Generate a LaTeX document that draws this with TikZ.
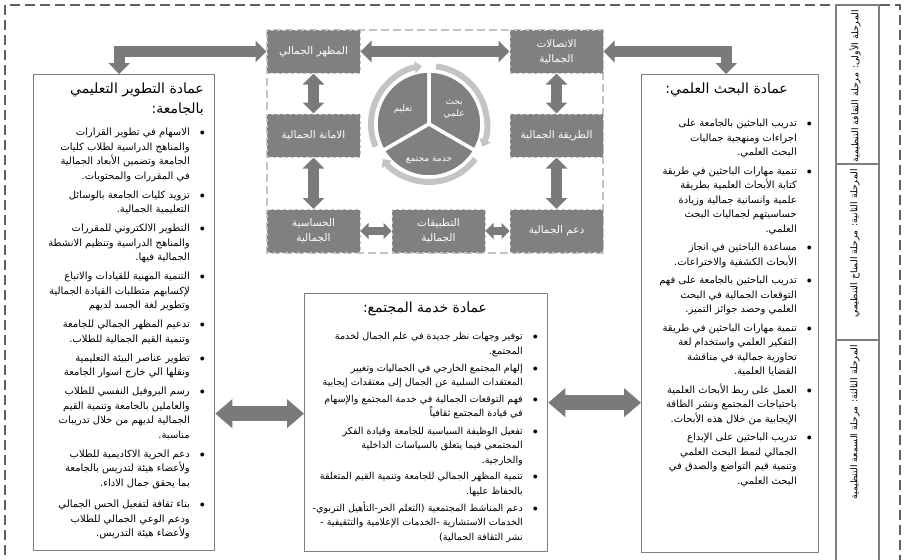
\documentclass[tikz,border=0pt]{standalone}
\usepackage{fontspec}
\usetikzlibrary{arrows.meta,positioning}
\newfontfamily\arabicfont[Script=Arabic]{DejaVu Sans}
\TeXXeTstate=1
\definecolor{BoxGray}{HTML}{808080}
\definecolor{EdgeGray}{HTML}{7F7F7F}
\definecolor{RingGray}{HTML}{C4C4C4}
\definecolor{FrameGray}{HTML}{606060}
\definecolor{ArrowGray}{HTML}{7A7A7A}
\newcommand\ar[1]{\beginR #1\endR}
\newcommand\bl[1]{\ar{#1}\hspace{10pt}$\bullet$}
\newcommand\cl[1]{\ar{#1}\hspace{10pt}\phantom{$\bullet$}}
\tikzset{
        dean/.style={draw=EdgeGray, line width=1.3pt, anchor=north west, inner sep=0pt},
        ttl/.style={anchor=north east, inner sep=0pt, align=right, font=\arabicfont\fontsize{14}{20}\selectfont},
        lst/.style={anchor=north east, inner sep=0pt, align=right, font=\arabicfont\fontsize{10}{14.5}\selectfont},
        aspect/.style={fill=BoxGray, draw=RingGray, dashed, line width=1pt, text=white, align=center,
                font=\arabicfont\fontsize{10.5}{15}\selectfont, minimum width=93pt, minimum height=43pt, inner sep=1pt},
        pielbl/.style={text=white, align=center, font=\arabicfont\fontsize{9}{12}\selectfont},
        stagetxt/.style={rotate=90, anchor=east, inner sep=0pt, font=\arabicfont\fontsize{9.3}{11}\selectfont},
        biga/.style={ArrowGray, line width=15pt, {Triangle[length=17pt,width=28pt]}-{Triangle[length=17pt,width=28pt]}},
        meda/.style={ArrowGray, line width=11pt, {Triangle[length=11pt,width=21pt]}-{Triangle[length=11pt,width=21pt]}},
        smalla/.style={ArrowGray, line width=8pt, {Triangle[length=8pt,width=16pt]}-{Triangle[length=8pt,width=16pt]}},
        ring/.style={RingGray, line width=6pt, -{Triangle[length=7pt,width=12pt]}}
}
\begin{document}
\begin{tikzpicture}[x=1pt, y=-1pt]
        \useasboundingbox (0,0) rectangle (906,560);
        \draw[FrameGray, line width=2pt, dash pattern=on 10pt off 5pt] (5,570) -- (5,5) -- (900,5) -- (900,570);
        \draw[fill=white, draw=EdgeGray, line width=1.3pt] (836,5) rectangle (879,570);
        \draw[EdgeGray, line width=1.3pt] (836,164) -- (879,164);
        \draw[EdgeGray, line width=1.3pt] (836,340) -- (879,340);
        \node[stagetxt] (st1) at (855,10) {\ar{المرحلة الأولى: مرحلة الثقافة التنظيمية}};
        \node[stagetxt] (st2) at (855,169) {\ar{المرحلة الثانية: مرحلة المناخ التنظيمي}};
        \node[stagetxt] (st3) at (855,345) {\ar{المرحلة الثالثة: مرحلة السمعة التنظيمية}};

        \draw[RingGray, line width=1.2pt, dash pattern=on 8pt off 4pt] (267,30) rectangle (603,253);
        \node[aspect] (mazhar) at (313.5,51.5) {\ar{المظهر الجمالي}};
        \node[aspect] (ittisal) at (556.5,51.5) {\ar{الاتصالات}\\\ar{الجمالية}};
        \node[aspect] (amana) at (313.5,135.5) {\ar{الامانة الجمالية}};
        \node[aspect] (tariqa) at (556.5,135.5) {\ar{الطريقة الجمالية}};
        \node[aspect] (hassasia) at (313.5,231) {\ar{الحساسية}\\\ar{الجمالية}};
        \node[aspect] (tatbiq) at (438.5,231) {\ar{التطبيقات}\\\ar{الجمالية}};
        \node[aspect] (daam) at (556.5,231) {\ar{دعم الجمالية}};

        \begin{scope}[shift={(429,124)}, y=1pt]
                \fill[BoxGray, draw=white, line width=3.5pt] (0,0) -- (90:53) arc[start angle=90, end angle=210, radius=53] -- cycle;
                \fill[BoxGray, draw=white, line width=3.5pt] (0,0) -- (-30:53) arc[start angle=-30, end angle=90, radius=53] -- cycle;
                \fill[BoxGray, draw=white, line width=3.5pt] (0,0) -- (210:53) arc[start angle=210, end angle=330, radius=53] -- cycle;
                \draw[ring] (203:58) arc[start angle=203, end angle=97, radius=58];
                \draw[ring] (83:58) arc[start angle=83, end angle=-23, radius=58];
                \draw[ring] (-37:58) arc[start angle=-37, end angle=-143, radius=58];
                \node[pielbl] (taalim) at (150:30) {\ar{تعليم}};
                \node[pielbl] (bahth) at (30:29) {\ar{بحث}\\\ar{علمي}};
                \node[pielbl] (khidma) at (270:36) {\ar{خدمة مجتمع}};
        \end{scope}

        \node[dean, minimum width=181pt, minimum height=476pt] (edu) at (33,74) {};
        \node[dean, minimum width=177pt, minimum height=478pt] (res) at (641,74) {};
        \node[dean, minimum width=243pt, minimum height=258pt] (com) at (304,293) {};

        \node[ttl] (eduT) at (204,83) {\ar{عمادة التطوير التعليمي}\\\ar{بالجامعة:}};
        \node[lst] (eduL) at (205,128) {
                \bl{الاسهام في تطوير القرارات}\\
                \cl{والمناهج الدراسية لطلاب كليات}\\
                \cl{الجامعة وتضمين الأبعاد الجمالية}\\
                \cl{في المقررات والمحتويات.}\\[4.5pt]
                \bl{تزويد كليات الجامعة بالوسائل}\\
                \cl{التعليمية الجمالية.}\\[4.5pt]
                \bl{التطوير الالكتروني للمقررات}\\
                \cl{والمناهج الدراسية وتنظيم الانشطة}\\
                \cl{الجمالية فيها.}\\[4.5pt]
                \bl{التنمية المهنية للقيادات والاتباع}\\
                \cl{لإكسابهم متطلبات القيادة الجمالية}\\
                \cl{وتطوير لغة الجسد لديهم}\\[4.5pt]
                \bl{تدعيم المظهر الجمالي للجامعة}\\
                \cl{وتنمية القيم الجمالية للطلاب.}\\[4.5pt]
                \bl{تطوير عناصر البيئة التعليمية}\\
                \cl{ونقلها الي خارج اسوار الجامعة}\\[4.5pt]
                \bl{رسم البروفيل النفسي للطلاب}\\
                \cl{والعاملين بالجامعة وتنمية القيم}\\
                \cl{الجمالية لديهم من خلال تدريبات}\\
                \cl{مناسبة.}\\[4.5pt]
                \bl{دعم الحرية الاكاديمية للطلاب}\\
                \cl{ولأعضاء هيئة لتدريس بالجامعة}\\
                \cl{بما يحقق جمال الاداء.}\\[7pt]
                \bl{بناء ثقافة لتفعيل الحس الجمالي\hspace{4pt}}\\
                \cl{ودعم الوعي الجمالي للطلاب\hspace{14pt}}\\
                \cl{ولأعضاء هيئة التدريس.\hspace{24pt}}};

        \node[ttl] (resT) at (788,83) {\ar{عمادة البحث العلمي:}};
        \node[lst] (resL) at (812,119) {
                \bl{تدريب الباحثين بالجامعة على}\\
                \cl{اجراءات ومنهجية جماليات}\\
                \cl{البحث العلمي.}\\[4pt]
                \bl{تنمية مهارات الباحثين في طريقة}\\
                \cl{كتابة الأبحاث العلمية بطريقة}\\
                \cl{علمية وانسانية جمالية وزيادة}\\
                \cl{حساسيتهم لجماليات البحث}\\
                \cl{العلمي.}\\[4pt]
                \bl{مساعدة الباحثين في انجاز}\\
                \cl{الأبحاث الكشفية والاختراعات.}\\[4pt]
                \bl{تدريب الباحثين بالجامعة على فهم}\\
                \cl{التوقعات الجمالية في البحث}\\
                \cl{العلمي وحصد جوائز التميز.}\\[4pt]
                \bl{تنمية مهارات الباحثين في طريقة}\\
                \cl{التفكير العلمي واستخدام لغة}\\
                \cl{تحاورية جمالية في مناقشة}\\
                \cl{القضايا العلمية.}\\[4pt]
                \bl{العمل على ربط الأبحاث العلمية}\\
                \cl{باحتياجات المجتمع ونشر الطاقة}\\
                \cl{الإيجابية من خلال هذه الأبحاث.}\\[4pt]
                \bl{تدريب الباحثين على الإبداع}\\
                \cl{الجمالي لنمط البحث العلمي}\\
                \cl{وتنمية قيم التواضع والصدق في}\\
                \cl{البحث العلمي.}};

        \node[ttl, anchor=north] (comT) at (425,302) {\ar{عمادة خدمة المجتمع:}};
        \node[lst, font=\arabicfont\fontsize{9.6}{14.5}\selectfont] (comL) at (538,332) {
                \bl{توفير وجهات نظر جديدة في علم الجمال لخدمة}\\
                \cl{المجتمع.}\\[2.5pt]
                \bl{إلهام المجتمع الخارجي في الجماليات وتغيير}\\
                \cl{المعتقدات السلبية عن الجمال إلى معتقدات إيجابية}\\[2.5pt]
                \bl{فهم التوقعات الجمالية في خدمة المجتمع والإسهام}\\
                \cl{في قيادة المجتمع ثقافياً}\\[2.5pt]
                \bl{تفعيل الوظيفة السياسية للجامعة وقيادة الفكر}\\
                \cl{المجتمعي فيما يتعلق بالسياسات الداخلية}\\
                \cl{والخارجية.}\\[2.5pt]
                \bl{تنمية المظهر الجمالي للجامعة وتنمية القيم المتعلقة}\\
                \cl{بالحفاظ عليها.}\\[2.5pt]
                \bl{دعم المناشط المجتمعية (التعلم الحر-التأهيل التربوي-}\\
                \cl{الخدمات الاستشارية -الخدمات الإعلامية والتثقيفية -}\\
                \cl{نشر الثقافة الجمالية)}};

        \draw[meda] (mazhar) -- (ittisal);
        \draw[meda] (mazhar) -- (amana);
        \draw[meda] (amana) -- (hassasia);
        \draw[meda] (ittisal) -- (tariqa);
        \draw[meda] (tariqa) -- (daam);
        \draw[smalla] (hassasia) -- (tatbiq);
        \draw[smalla] (tatbiq) -- (daam);
        \draw[meda] (mazhar.west) -| ([xshift=-5pt]edu.north);
        \draw[meda] (ittisal.east) -| ([xshift=-4pt]res.north);
        \draw[biga] ([yshift=9pt]com.west -| edu.east) -- ([yshift=9pt]com.west);
        \draw[biga] ([yshift=20pt]com.east) -- ([yshift=20pt]com.east -| res.west);
\end{tikzpicture}
\end{document}
